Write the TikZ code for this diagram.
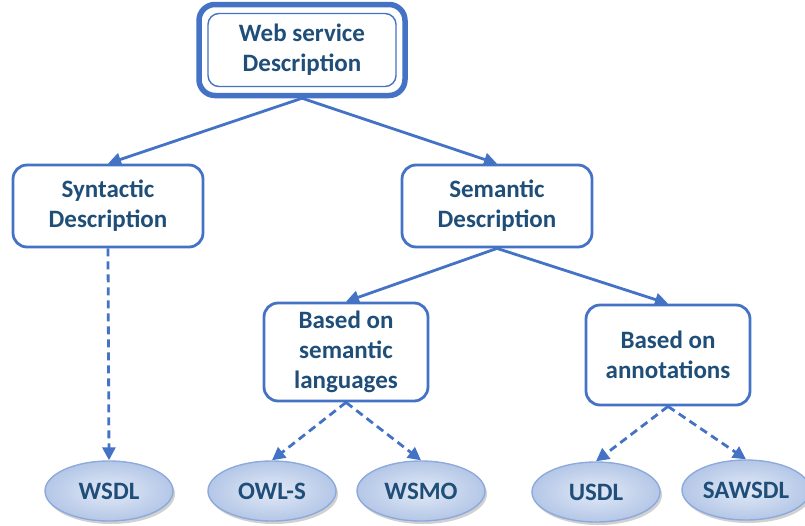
\documentclass[tikz,border=0pt]{standalone}
\usepackage{fontspec}
\setmainfont{Carlito}
\usetikzlibrary{shapes.geometric,shadows,arrows.meta}
\definecolor{lineblue}{HTML}{4472C4}
\definecolor{txtblue}{HTML}{1F4E79}
\definecolor{ellin}{HTML}{E2E9F6}
\definecolor{ellout}{HTML}{B4C7E7}
\definecolor{elledge}{HTML}{8EA9DB}
\tikzset{
  every node/.style={font=\fontsize{25}{30}\selectfont\bfseries, text=txtblue, align=center},
  box/.style={draw=lineblue, line width=2.8pt, rounded corners=14pt, fill=white, inner sep=0pt},
  leaf/.style={ellipse, draw=elledge, line width=1.4pt, inner sep=0pt, minimum width=128pt, minimum height=60pt,
     shading=radial, inner color=ellin, outer color=ellout,
     drop shadow={shadow xshift=2pt, shadow yshift=-3pt, fill=gray!60, opacity=0.6}},
  arr/.style={draw=lineblue, line width=2.8pt, -{Triangle[length=13pt,width=13pt]}},
  darr/.style={arr, dash pattern=on 8pt off 5pt}
}
\begin{document}
\begin{tikzpicture}[x=1pt,y=-1pt]
\useasboundingbox (0,0) rectangle (805,525);
% top box
\node[draw=lineblue, line width=5.5pt, rounded corners=16pt, fill=white, minimum width=206pt, minimum height=91pt, inner sep=0pt] (topo) at (302,50) {};
\node[draw=lineblue, line width=1.4pt, rounded corners=11pt, minimum width=188pt, minimum height=73pt, inner sep=0pt] (top) at (302,50) {Web service\\Description};
% second level
\node[box, minimum width=190pt, minimum height=82pt] (syn) at (108,206) {Syntactic\\Description};
\node[box, minimum width=190pt, minimum height=82pt] (sem) at (497,206) {Semantic\\Description};
% third level
\node[box, minimum width=164pt, minimum height=98pt] (bsl) at (346,352) {Based on\\semantic\\languages};
\node[box, minimum width=164pt, minimum height=100pt] (ban) at (668,355) {Based on\\annotations};
% leaves
\node[leaf] (wsdl) at (109,491) {WSDL};
\node[leaf] (owls) at (272,491) {OWL-S};
\node[leaf] (wsmo) at (421,491) {WSMO};
\node[leaf] (usdl) at (596,492) {USDL};
\node[leaf] (saw) at (746,490) {SAWSDL};
% connectors
\draw[arr] (topo.south) -- (syn.north);
\draw[arr] (topo.south) -- (sem.north);
\draw[arr] (sem.south) -- (bsl.north);
\draw[arr] (sem.south) -- (ban.north);
\draw[darr] (syn.south) -- (wsdl.north);
\draw[darr] (bsl.south) -- (owls.north);
\draw[darr] (bsl.south) -- (wsmo.north);
\draw[darr] (ban.south) -- (usdl.north);
\draw[darr] (ban.south) -- (saw.north);
\end{tikzpicture}
\end{document}
